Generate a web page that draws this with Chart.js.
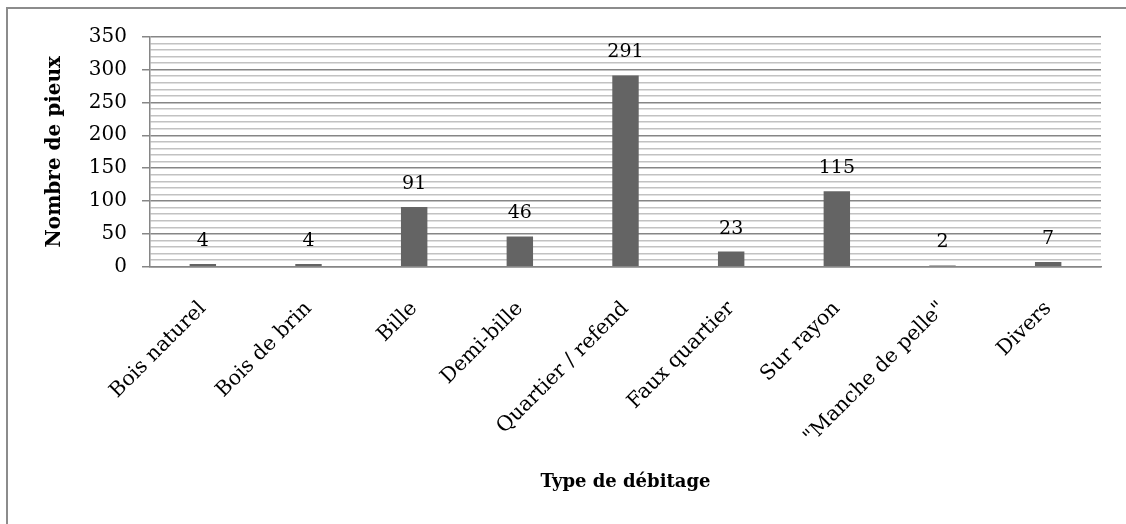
<!DOCTYPE html>
<html>
<head>
<meta charset="utf-8">
<script src="https://cdn.jsdelivr.net/npm/chart.js@4/dist/chart.umd.min.js"></script>
<style>
  html, body { margin: 0; padding: 0; background: #fff; }
  #wrap { position: relative; width: 1126px; height: 524px; }
</style>
</head>
<body>
<div id="wrap"><canvas id="chart"></canvas></div>
<script>
// Nombre de pieux par type de débitage
const categories = ['Bois naturel', 'Bois de brin', 'Bille', 'Demi-bille', 'Quartier / refend',
    'Faux quartier', 'Sur rayon', '"Manche de pelle"', 'Divers'];
const counts = [4, 4, 91, 46, 291, 23, 115, 2, 7];
const yMax = 350;
const yMajorStep = 50;
const yMinorStep = 10;

const serif = "'DejaVu Serif', serif";
const majorGrid = '#868686';
const minorGrid = '#c2c2c2';

// outer frame (left and top edges only are visible)
const framePlugin = {
    id: 'frame',
    beforeDraw(chart) {
        const ctx = chart.ctx;
        ctx.save();
        ctx.strokeStyle = '#8c8c8c';
        ctx.lineWidth = 2;
        ctx.beginPath();
        ctx.moveTo(7, 524);
        ctx.lineTo(7, 8);
        ctx.lineTo(1126, 8);
        ctx.stroke();
        ctx.restore();
    }
};

// value written above every bar
const valueLabels = {
    id: 'valueLabels',
    afterDatasetsDraw(chart) {
        const ctx = chart.ctx;
        const meta = chart.getDatasetMeta(0);
        ctx.save();
        ctx.font = `19px ${serif}`;
        ctx.fillStyle = '#000';
        ctx.textAlign = 'center';
        ctx.textBaseline = 'alphabetic';
        meta.data.forEach((bar, i) => {
            ctx.fillText(String(counts[i]), bar.x, bar.y - 18);
        });
        ctx.restore();
    }
};

const isMajor = c => c.tick && c.tick.value % yMajorStep === 0;

new Chart(document.getElementById('chart'), {
    type: 'bar',
    data: {
        labels: categories,
        datasets: [{
            data: counts,
            backgroundColor: '#646464',
            borderWidth: 0,
            categoryPercentage: 1,
            barPercentage: 0.25
        }]
    },
    options: {
        responsive: true,
        maintainAspectRatio: false,
        animation: false,
        layout: { padding: { top: 36.7, right: 25, left: 0, bottom: 0 } },
        plugins: {
            legend: { display: false },
            tooltip: { enabled: false }
        },
        scales: {
            x: {
                grid: { display: false, drawTicks: false },
                border: { display: true, color: majorGrid, width: 1.5 },
                ticks: {
                    color: '#000',
                    font: { family: serif, size: 20.5 },
                    minRotation: 45,
                    maxRotation: 45,
                    autoSkip: false,
                    padding: 30
                },
                title: {
                    display: true,
                    text: 'Type de débitage',
                    color: '#000',
                    font: { family: serif, size: 18, weight: 'bold' },
                    padding: { top: 0, bottom: 31 }
                },
                afterFit(scale) { scale.height = 524 - 266.7; }
            },
            y: {
                min: 0,
                max: yMax,
                grid: {
                    color: c => isMajor(c) ? majorGrid : minorGrid,
                    tickColor: c => isMajor(c) ? majorGrid : 'rgba(0,0,0,0)',
                    lineWidth: 1.5,
                    tickLength: 8
                },
                border: { display: true, color: majorGrid, width: 1.5 },
                ticks: {
                    stepSize: yMinorStep,
                    autoSkip: false,
                    color: '#000',
                    font: { family: serif, size: 20 },
                    padding: 15,
                    callback: v => v % yMajorStep === 0 ? v : ''
                },
                title: {
                    display: true,
                    text: 'Nombre de pieux',
                    color: '#000',
                    font: { family: serif, size: 20, weight: 'bold' },
                    padding: { top: 43, bottom: 0 }
                },
                afterFit(scale) { scale.width = 150; }
            }
        }
    },
    plugins: [framePlugin, valueLabels]
});
</script>
</body>
</html>
